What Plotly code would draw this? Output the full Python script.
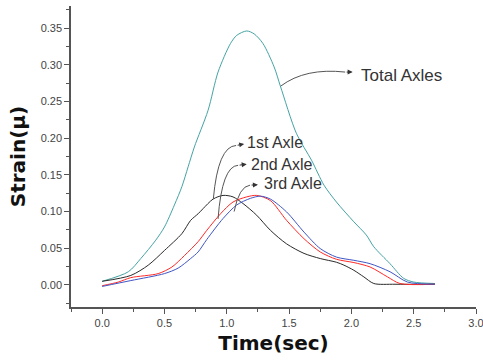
import plotly.graph_objects as go

# ---- data ----
total_t = [0.00, 0.21, 0.31, 0.43, 0.50, 0.58, 0.64, 0.69, 0.74, 0.85, 0.93, 1.03, 1.08, 1.16, 1.22,
           1.29, 1.38, 1.43, 1.56, 1.68, 1.78, 1.88, 2.02, 2.12, 2.18, 2.31, 2.42, 2.50, 2.67]
total_v = [0.005, 0.018, 0.036, 0.061, 0.079, 0.109, 0.134, 0.161, 0.188, 0.238, 0.290, 0.329, 0.340, 0.346, 0.342,
           0.329, 0.297, 0.271, 0.206, 0.170, 0.136, 0.113, 0.086, 0.068, 0.052, 0.029, 0.009, 0.004, 0.002]

axle1_t = [0.00, 0.23, 0.37, 0.50, 0.64, 0.71, 0.77, 0.81, 0.89, 0.97, 1.05, 1.13, 1.24, 1.35, 1.48,
           1.62, 1.75, 1.88, 1.94, 2.02, 2.10, 2.18, 2.35, 2.67]
axle1_v = [0.005, 0.013, 0.027, 0.047, 0.070, 0.088, 0.097, 0.104, 0.117, 0.122, 0.120, 0.111, 0.095, 0.0745, 0.056,
           0.043, 0.036, 0.031, 0.027, 0.020, 0.011, 0.002, 0.001, 0.001]

axle2_t = [0.00, 0.13, 0.23, 0.45, 0.56, 0.66, 0.77, 0.84, 0.95, 1.05, 1.16, 1.24, 1.35, 1.48, 1.62,
           1.75, 1.88, 2.02, 2.15, 2.29, 2.39, 2.67]
axle2_v = [-0.001, 0.004, 0.010, 0.0155, 0.0245, 0.040, 0.059, 0.0745, 0.097, 0.113, 0.120, 0.122, 0.115, 0.088, 0.063,
           0.045, 0.035, 0.0305, 0.0245, 0.011, 0.002, 0.001]

axle3_t = [0.00, 0.23, 0.50, 0.61, 0.71, 0.77, 0.84, 0.97, 1.08, 1.19, 1.27, 1.35, 1.48, 1.62, 1.75,
           1.88, 2.02, 2.15, 2.31, 2.45, 2.67]
axle3_v = [-0.002, 0.006, 0.0155, 0.023, 0.036, 0.045, 0.062, 0.0905, 0.109, 0.118, 0.121, 0.117, 0.0995, 0.072, 0.0496,
           0.038, 0.0336, 0.029, 0.018, 0.004, 0.001]

series_names = ["Total Axles", "1st Axle", "2nd Axle", "3rd Axle"]
series_colors = ["#45a3a3", "#2a2a2a", "#ff2a2a", "#3f55c4"]

# label anchors: (text, font size, label x, label y, curve start x, y, control x, y, end x, y, arrow tip x, y)
labels = [
    ("Total Axles", 17, 2.06, 0.286, 1.434, 0.271, 1.63, 0.296, 1.95, 0.290, 2.01, 0.290),
    ("1st Axle",    16, 1.15, 0.194, 0.892, 0.117, 0.93, 0.189, 1.075, 0.190, 1.14, 0.192),
    ("2nd Axle",    16, 1.175, 0.164, 0.930, 0.090, 0.962, 0.162, 1.091, 0.163, 1.16, 0.1645),
    ("3rd Axle",    16, 1.285, 0.138, 1.059, 0.100, 1.099, 0.1345, 1.187, 0.136, 1.25, 0.1365),
]

fig = go.Figure()
for t, v, name, col in [(total_t, total_v, series_names[0], series_colors[0]),
                        (axle1_t, axle1_v, series_names[1], series_colors[1]),
                        (axle2_t, axle2_v, series_names[2], series_colors[2]),
                        (axle3_t, axle3_v, series_names[3], series_colors[3])]:
    fig.add_trace(go.Scatter(x=t, y=v, mode="lines", name=name,
                             line=dict(color=col, width=1, shape="spline", smoothing=0.8)))

shapes = []
annotations = []
for (txt, fs, lx, ly, sx, sy, cx, cy, ex, ey, tx, ty) in labels:
    shapes.append(dict(type="path", xref="x", yref="y",
                       path=f"M {sx},{sy} Q {cx},{cy} {ex},{ey}",
                       line=dict(color="#555555", width=1)))
    annotations.append(dict(x=tx, y=ty, ax=ex, ay=ey, xref="x", yref="y", axref="x", ayref="y",
                            text="", showarrow=True, arrowhead=2, arrowsize=1, arrowwidth=1,
                            arrowcolor="#333333"))
    annotations.append(dict(x=lx, y=ly, xref="x", yref="y", text=txt, showarrow=False,
                            xanchor="left", yanchor="middle",
                            font=dict(family="Liberation Sans, Arial", size=fs, color="#333333")))

axis_common = dict(showline=True, linecolor="#555555", linewidth=1.5, ticks="outside",
                   tickcolor="#555555", tickwidth=1, ticklen=5, showgrid=False, zeroline=False,
                   mirror=False, automargin=False, ticklabeloverflow="allow",
                   tickfont=dict(family="Liberation Sans, Arial", size=11, color="#444444"))

fig.update_layout(
    width=483, height=363,
    margin=dict(l=71, r=7, t=6, b=56),
    paper_bgcolor="white", plot_bgcolor="white",
    showlegend=False,
    shapes=shapes, annotations=annotations,
    xaxis=dict(range=[-0.25, 3.0], dtick=0.5, tick0=0, tickformat=".1f",
               minor=dict(ticks="outside", ticklen=3, dtick=0.25, tick0=0, tickcolor="#555555"),
               title=dict(text="Time(sec)", standoff=8,
                          font=dict(family="DejaVu Sans", size=20, color="#111111", weight="bold")),
               **axis_common),
    yaxis=dict(range=[-0.03, 0.38], dtick=0.05, tick0=0, tickformat=".2f",
               minor=dict(ticks="outside", ticklen=3, dtick=0.025, tick0=0, tickcolor="#555555"),
               title=dict(text="Strain(μ)", standoff=10,
                          font=dict(family="DejaVu Sans", size=20, color="#111111", weight="bold")),
               **axis_common),
)

fig.write_html("out.html", config={"displayModeBar": False},
               post_script="document.body.style.margin='0';document.body.style.padding='0';")
